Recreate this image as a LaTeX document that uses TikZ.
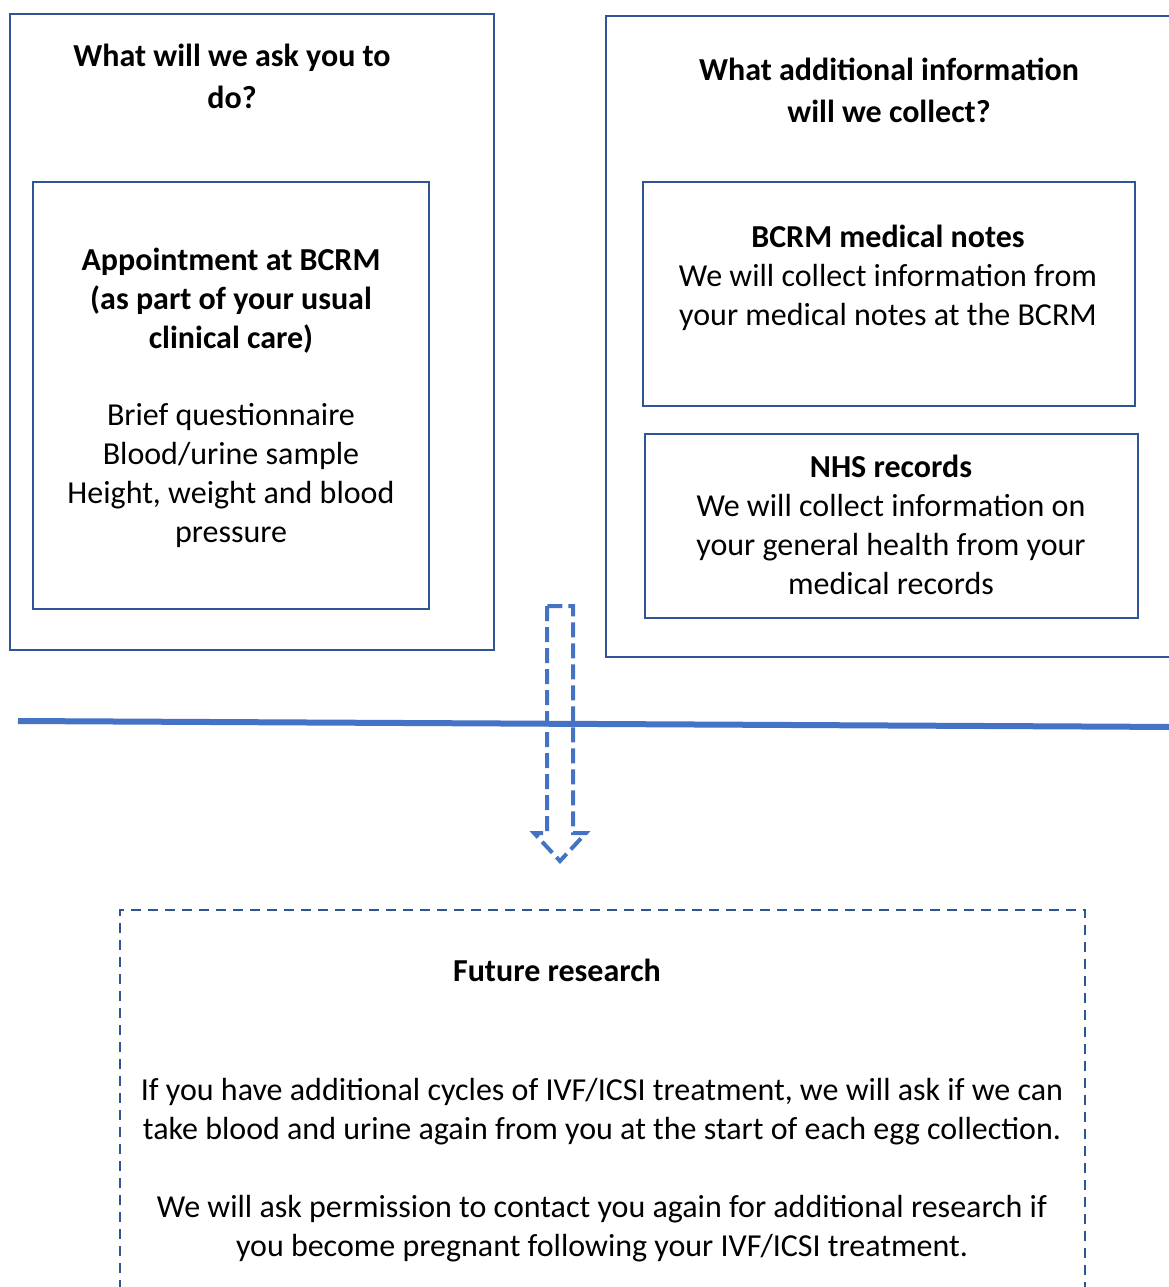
\documentclass[tikz,border=0pt]{standalone}
\usepackage{fontspec}
\setmainfont{Carlito}
\usetikzlibrary{positioning}
\definecolor{boxblue}{HTML}{2F5597}
\definecolor{linkblue}{HTML}{4472C4}
\tikzset{
  panel/.style={
    rectangle,
    draw=boxblue,
    line width=2.5pt,
    inner sep=0pt,
    outer sep=0pt,
    anchor=north west
  },
  body text/.style={
    align=center,
    inner sep=0pt,
    font=\fontsize{32}{39}\selectfont
  },
  heading/.style={
    align=center,
    inner sep=0pt,
    font=\fontsize{32}{42}\selectfont\bfseries
  },
}
\tikzstyle{research} = [panel, line width=2pt, dash pattern=on 10pt off 7pt]
\tikzstyle{bigarrow} = [draw=linkblue, line width=4pt, dash pattern=on 15pt off 6pt, line join=miter]
\tikzstyle{divider} = [draw=linkblue, line width=6pt]

\begin{document}
\begin{tikzpicture}[x=1pt, y=-1pt]
        \useasboundingbox (0,0) rectangle (1169,1287);

        % panels
        \node [panel, minimum width=484, minimum height=636] (askbox) at (10,14) {};
        \node [panel, minimum width=396, minimum height=427] (visitbox) at (33,182) {};
        \node [panel, minimum width=590, minimum height=641] (collectbox) at (606,16) {};
        \node [panel, minimum width=492, minimum height=224] (notesbox) at (643,182) {};
        \node [panel, minimum width=493, minimum height=184] (nhsbox) at (645,434) {};
        \node [research, minimum width=965, minimum height=420] (futurebox) at (120,910) {};

        % texts
        \node [heading] (asktitle) at (232,76) {What will we ask you to\\do?};
        \node [body text, font=\fontsize{32}{39}\selectfont\bfseries] (visittitle) at (231,301) {Appointment at BCRM\\(as part of your usual\\clinical care)};
        \node [body text] (visitlist) at (231,476) {Brief questionnaire\\Blood/urine sample\\Height, weight and blood\\pressure};
        \node [heading] (collecttitle) at (889,90) {What additional information\\will we collect?};
        \node [body text] (notestext) at (888,278) {\textbf{BCRM medical notes}\\We will collect information from\\your medical notes at the BCRM};
        \node [body text] (nhstext) at (891,525) {\textbf{NHS records}\\We will collect information on\\your general health from your\\medical records};
        \node [heading] (futuretitle) at (557,970) {Future research};
        \node [body text] (futuretext) at (602,1170) {If you have additional cycles of IVF/ICSI treatment, we will ask if we can\\take blood and urine again from you at the start of each egg collection.\\[39pt]We will ask permission to contact you again for additional research if\\you become pregnant following your IVF/ICSI treatment.};

        % divider and arrow
        \coordinate (divleft) at (18,721);
        \coordinate (divright) at (1180,727);
        \draw [divider] (divleft) -- (divright);

        \coordinate (arrtop) at (560,606);
        \coordinate (arrtip) at (560,861);
        \draw [bigarrow] (arrtop) ++(-13,0) -- ++(0,227) -- ++(-13,0) -- (arrtip)
            -- ++(26,-28) -- ++(-13,0) -- ++(0,-227) -- cycle;
    \end{tikzpicture}
\end{document}
